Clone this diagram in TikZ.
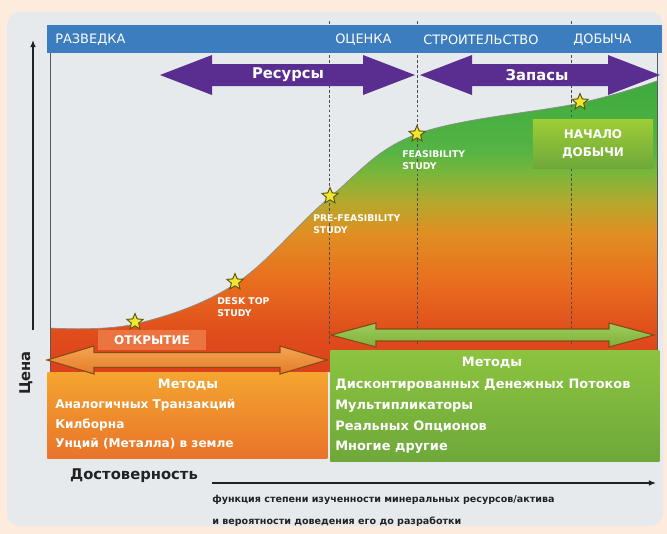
\documentclass[tikz,border=0pt]{standalone}
\usepackage{fontspec}
\setmainfont{DejaVu Sans}
\usetikzlibrary{shapes.geometric,arrows.meta}

\definecolor{peach}{HTML}{FDEBDD}
\definecolor{panel}{HTML}{E7EAEC}
\definecolor{hdrblue}{HTML}{3C7DC0}
\definecolor{violet}{HTML}{5A2D91}
\definecolor{redor}{HTML}{DC401C}
\definecolor{fillA}{HTML}{E04E1C}
\definecolor{fillB}{HTML}{E8701F}
\definecolor{fillC}{HTML}{E08F22}
\definecolor{fillD}{HTML}{B6A82C}
\definecolor{fillE}{HTML}{7CB63A}
\definecolor{fillF}{HTML}{55B444}
\definecolor{fillG}{HTML}{3DAA3E}
\definecolor{staryel}{HTML}{F2E530}
\definecolor{starrim}{HTML}{5E5810}
\definecolor{boxorA}{HTML}{F4A530}
\definecolor{boxorB}{HTML}{E9742A}
\definecolor{boxgrA}{HTML}{8CC43F}
\definecolor{boxgrB}{HTML}{6EA83A}
\definecolor{arrorA}{HTML}{F3A550}
\definecolor{arrorB}{HTML}{E47C2A}
\definecolor{arrrim}{HTML}{8A4A18}
\definecolor{openbg}{HTML}{EC7440}
\definecolor{txtdark}{HTML}{222222}

% area under the price curve: red at the bottom, green at the top
\pgfdeclareverticalshading{chartfill}{100bp}{color(0bp)=(redor); color(25bp)=(redor);
  color(32bp)=(fillA); color(41bp)=(fillB); color(49bp)=(fillC); color(54bp)=(fillD);
  color(59bp)=(fillE); color(63bp)=(fillF); color(75bp)=(fillG); color(100bp)=(fillG)}

% double arrow: style, x1, x2, y, shaft half width, head half width, head length
\newcommand{\dblarrow}[7]{%
  \path[#1] (#2,#4) -- ({#2+#7},{#4-#6}) -- ({#2+#7},{#4-#5}) -- ({#3-#7},{#4-#5})
    -- ({#3-#7},{#4-#6}) -- (#3,#4) -- ({#3-#7},{#4+#6}) -- ({#3-#7},{#4+#5})
    -- ({#2+#7},{#4+#5}) -- ({#2+#7},{#4+#6}) -- cycle;}

\tikzset{
  hdr/.style={text=white, font=\fontsize{9.2}{10}\selectfont, anchor=west, inner sep=0},
  arrtxt/.style={text=white, font=\fontsize{10.5}{11}\selectfont\bfseries, inner sep=0},
  starnode/.style={star, star points=5, star point ratio=2.2, fill=staryel, draw=starrim,
    line width=0.7pt, minimum size=12pt, inner sep=0},
  stlabel/.style={text=white, font=\fontsize{6.6}{9}\selectfont\bfseries, align=left,
    anchor=north west, inner sep=0},
  phase/.style={black!70, line width=0.6pt, dash pattern=on 2pt off 1.5pt},
  border/.style={black!65, line width=0.7pt},
  mtitle/.style={text=white, font=\fontsize{9.2}{11}\selectfont\bfseries, inner sep=0},
  mline/.style={mtitle, anchor=west},
  axisline/.style={txtdark, line width=0.9pt, -{Latex[length=5pt,width=4pt]}},
  note/.style={text=txtdark, font=\fontsize{6.8}{8}\selectfont\bfseries, anchor=west, inner sep=0}
}

\begin{document}
\begin{tikzpicture}[x=0.025cm,y=-0.025cm]
\useasboundingbox (0,0) rectangle (667,534);
\fill[peach] (0,0) rectangle (667,534);
\fill[panel, rounded corners=9pt] (7,12) rectangle (663,526);

% curve and the filled area below it
\shade[shading=chartfill] plot[smooth,tension=0.6] coordinates {(50,328) (135,324) (235,284) (330,197) (417,134) (580,103) (657,81)}
  -- (657,372) -- (50,372) -- cycle;
\draw[black!45, line width=0.5pt] plot[smooth,tension=0.6] coordinates {(50,328) (135,324) (235,284) (330,197) (417,134) (580,103) (657,81)};

% chart frame and phase boundaries
\draw[border] (50,53) -- (50,372);
\draw[border] (657,25) -- (657,350);
\draw[phase] (329,21) -- (329,345);
\draw[phase] (417,21) -- (417,345);
\draw[phase] (571,21) -- (571,345);

% phases
\fill[hdrblue] (47,25) rectangle (662,53);
\node[hdr] (ph1) at (55,40) {РАЗВЕДКА};
\node[hdr] (ph2) at (335,40) {ОЦЕНКА};
\node[hdr] (ph3) at (423,40) {СТРОИТЕЛЬСТВО};
\node[hdr] (ph4) at (573,40) {ДОБЫЧА};

\dblarrow{fill=violet}{160}{415}{75}{11}{20}{52}
\dblarrow{fill=violet}{420}{660}{75}{11}{20}{52}
\node[arrtxt] (res) at (288,75) {Ресурсы};
\node[arrtxt] (zap) at (537,75) {Запасы};

% stages along the curve
\node[starnode] (sOpen) at (135,322) {};
\node[starnode] (sDesk) at (235,282) {};
\node[starnode] (sPre) at (330,196) {};
\node[starnode] (sFeas) at (417,134) {};
\node[starnode] (sProd) at (580,102) {};
\node[stlabel] (lDesk) at (217,297) {DESK TOP\\STUDY};
\node[stlabel] (lPre) at (313,214) {PRE-FEASIBILITY\\STUDY};
\node[stlabel] (lFeas) at (402,150) {FEASIBILITY\\STUDY};

\node[top color=boxgrA!85!yellow, bottom color=boxgrB, minimum width=3cm, minimum height=1.2cm,
  text=white, align=center, font=\fontsize{8.5}{13}\selectfont\bfseries] (prod) at (593,144) {НАЧАЛО\\ДОБЫЧИ};
\node[fill=openbg, minimum width=2.7cm, minimum height=0.5cm, text=white,
  font=\fontsize{8.5}{10}\selectfont\bfseries] (open) at (152,340) {ОТКРЫТИЕ};

% methods
\node[top color=boxorA, bottom color=boxorB, minimum width=7cm, minimum height=2.15cm,
  anchor=north west, inner sep=0] (obox) at (47,372) {};
\node[mtitle] (om) at (188,385) {Методы};
\node[mline, font=\fontsize{8.6}{10}\selectfont\bfseries] (o1) at (55,405) {Аналогичных Транзакций};
\node[mline, font=\fontsize{8.6}{10}\selectfont\bfseries] (o2) at (55,425) {Килборна};
\node[mline, font=\fontsize{8.6}{10}\selectfont\bfseries] (o3) at (55,444) {Унций (Металла) в земле};

\node[top color=boxgrA, bottom color=boxgrB, minimum width=8.225cm, minimum height=2.775cm,
  anchor=north west, inner sep=0] (gbox) at (330,350) {};
\node[mtitle] (gm) at (492,363) {Методы};
\node[mline] (g1) at (335,385) {Дисконтированных Денежных Потоков};
\node[mline] (g2) at (335,406) {Мультипликаторы};
\node[mline] (g3) at (335,427) {Реальных Опционов};
\node[mline] (g4) at (335,447) {Многие другие};

\dblarrow{top color=arrorA, bottom color=arrorB, draw=arrrim, line width=0.8pt}{47}{327}{360}{7.5}{14}{47}
\dblarrow{top color=boxgrA!85!white, bottom color=boxgrA!90!black, draw=arrrim, line width=0.8pt}{331}{654}{335}{6}{12}{45}

% axes
\coordinate (yb) at (33,330);
\coordinate (yt) at (33,40);
\draw[axisline] (yb) -- (yt);
\node[rotate=90, text=txtdark, font=\fontsize{10.5}{11}\selectfont\bfseries] (price) at (26,373) {Цена};

\coordinate (xs) at (212,483);
\coordinate (xe) at (656,483);
\draw[axisline] (xs) -- (xe);
\node[text=txtdark, font=\fontsize{10.5}{12}\selectfont\bfseries] (trust) at (134,476) {Достоверность};
\node[note] (n1) at (212,500) {функция степени изученности минеральных ресурсов/актива};
\node[note] (n2) at (212,522) {и вероятности доведения его до разработки};
\end{tikzpicture}
\end{document}
